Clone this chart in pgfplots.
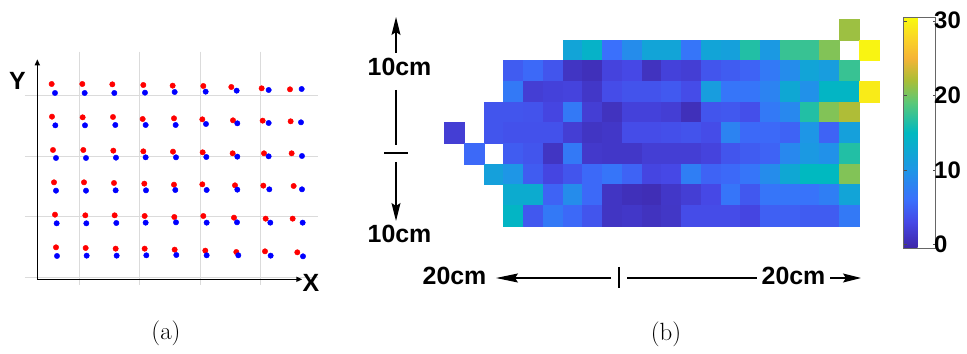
\documentclass[border=0pt]{standalone}
\usepackage{pgfplots}
\pgfplotsset{compat=1.18}
\usepackage{fontspec}
\newfontfamily\arial{Liberation Sans}
\newfontfamily\arialbf{Liberation Sans}[UprightFont={* Bold}, BoldFont={* Bold}]
\usetikzlibrary{arrows.meta}
\pgfplotsset{colormap={parulaish}{
 rgb255(0cm)=(62,38,168)
 rgb255(3.5cm)=(70,72,230)
 rgb255(6.5cm)=(58,112,252)
 rgb255(10.5cm)=(30,150,230)
 rgb255(15.5cm)=(0,185,192)
 rgb255(19.5cm)=(90,200,120)
 rgb255(22.5cm)=(170,190,55)
 rgb255(25.5cm)=(245,180,55)
 rgb255(28cm)=(250,210,40)
 rgb255(31cm)=(249,251,14)
}}
\pgfdeclareplotmark{cell}{%
  \pgfpathrectangle{\pgfpoint{-9.875bp}{-10.35bp}}{\pgfpoint{19.75bp}{20.7bp}}%
  \pgfusepathqfillstroke}
\pgfplotstableread{
x y c
20 9 21.5
6 8 12
7 8 14
8 8 6
9 8 9
10 8 12
11 8 12
12 8 6.5
13 8 12
14 8 11.5
15 8 16.5
16 8 10.5
17 8 17.5
18 8 17.5
19 8 20.5
21 8 30
3 7 4.5
4 7 5.5
5 7 4
6 7 1
7 7 0.5
8 7 2.5
9 7 3
10 7 0.8
11 7 2.3
12 7 2
13 7 4
14 7 4.5
15 7 5
16 7 7
17 7 9
18 7 12
19 7 11
20 7 17.5
3 6 7
4 6 2
5 6 2.3
6 6 2.5
7 6 1.3
8 6 3.3
9 6 3.8
10 6 3.8
11 6 4.3
12 6 3.3
13 6 11
14 6 6.5
15 6 6.5
16 6 8
17 6 12.5
18 6 9.5
19 6 14.5
20 6 14.5
21 6 29.3
2 5 4
3 5 4
4 5 3.8
5 5 2.7
6 5 7
7 5 2
8 5 0.8
9 5 2.3
10 5 2.3
11 5 2
12 5 0.5
13 5 4
14 5 4.2
15 5 3.5
16 5 7
17 5 8.5
18 5 16.5
19 5 20.5
20 5 22.2
0 4 2
2 4 4
3 4 3.7
4 4 3.7
5 4 3.7
6 4 2
7 4 1
8 4 1.3
9 4 3.3
10 4 3.3
11 4 3.5
12 4 3.8
13 4 3.3
14 4 8
15 4 5.5
16 4 5.5
17 4 5
18 4 10
19 4 5
20 4 11.5
1 3 5.5
3 3 4.5
4 3 4
5 3 1
6 3 7
7 3 1.5
8 3 1.3
9 3 1.3
10 3 2
11 3 2
12 3 2
13 3 2.5
14 3 4
15 3 4.5
16 3 5
17 3 8.5
18 3 10.5
19 3 9.5
20 3 16.5
2 2 11.5
3 2 10
4 2 4.5
5 2 2.7
6 2 4
7 2 5.5
8 2 6.5
9 2 5
10 2 2.7
11 2 3
12 2 7.5
13 2 5
14 2 5.5
15 2 6.5
16 2 9
17 2 12.5
18 2 15
19 2 15
20 2 20.5
3 1 13
4 1 13
5 1 5
6 1 9
7 1 5.5
8 1 1
9 1 0.5
10 1 0.3
11 1 1.3
12 1 2
13 1 3
14 1 6.5
15 1 4.2
16 1 6.5
17 1 6.5
18 1 6.3
19 1 7.5
20 1 12
3 0 14.5
4 0 4.2
5 0 7
6 0 5.5
7 0 4
8 0 1
9 0 1.3
10 0 0.8
11 0 1.2
12 0 3.3
13 0 3.3
14 0 3.3
15 0 2.7
16 0 4.8
17 0 4.8
18 0 4.5
19 0 4.5
20 0 7
}\heat
\begin{document}
\begin{tikzpicture}
\path[use as bounding box] (0bp,0bp) rectangle (967bp,354bp);
% ---------- panel (a)
\begin{axis}[at={(0bp,304bp)}, anchor=north west, x=0.33333bp, y=0.33333bp, y dir=reverse,
  xmin=0, xmax=990, ymin=0, ymax=750, hide axis, clip=false]
\draw[black!14, line width=0.9bp] (axis cs:237,5) -- (axis cs:237,705);
\draw[black!14, line width=0.9bp] (axis cs:418,5) -- (axis cs:418,705);
\draw[black!14, line width=0.9bp] (axis cs:600,5) -- (axis cs:600,705);
\draw[black!14, line width=0.9bp] (axis cs:781,5) -- (axis cs:781,705);
\draw[black!14, line width=0.9bp] (axis cs:75,137) -- (axis cs:955,137);
\draw[black!14, line width=0.9bp] (axis cs:75,319) -- (axis cs:955,319);
\draw[black!14, line width=0.9bp] (axis cs:75,500) -- (axis cs:955,500);
\draw[black!14, line width=0.9bp] (axis cs:75,683) -- (axis cs:955,683);
\draw[line width=1.4bp, -{Triangle[length=6bp,width=5bp]}] (axis cs:112,688) -- (axis cs:112,28);
\draw[line width=1.4bp, -{Triangle[length=6bp,width=5bp]}] (axis cs:112,688) -- (axis cs:907,688);
\node[font=\arialbf\fontsize{25}{25}\selectfont] at (axis cs:52,93) {Y};
\node[font=\arialbf\fontsize{25}{25}\selectfont] at (axis cs:933,699) {X};
\addplot[only marks, mark=*, mark size=2.7bp, color=red] coordinates {
(155,102) (247,102) (337,103) (430,105) (518,107) (610,108) (694,111) (785,115) (870,118)
(156,200) (248,202) (339,201) (428,207) (522,205) (607,208) (699,211) (788,212) (872,214)
(159,300) (250,300) (340,302) (430,304) (519,305) (608,307) (698,310) (792,310) (875,310)
(162,397) (252,397) (342,399) (433,401) (522,404) (607,403) (705,406) (790,407) (881,408)
(165,494) (256,496) (344,496) (434,498) (523,501) (610,498) (702,503) (797,506) (878,506)
(168,592) (257,594) (347,596) (434,596) (524,599) (616,602) (709,606) (795,604) (892,607)};
\addplot[only marks, mark=*, mark size=2.7bp, color=blue] coordinates {
(165,129) (254,129) (343,129) (435,128) (524,126) (617,125) (710,122) (806,120) (905,117)
(166,226) (255,226) (346,225) (437,225) (527,225) (618,222) (712,220) (806,219) (903,217)
(168,324) (258,324) (348,323) (437,322) (528,322) (619,321) (712,320) (806,319) (906,318)
(168,422) (258,422) (347,421) (438,421) (526,420) (620,420) (712,419) (808,418) (906,418)
(170,520) (259,520) (349,519) (437,518) (528,517) (620,518) (711,517) (811,518) (908,518)
(171,618) (260,617) (350,617) (439,616) (529,615) (620,616) (715,616) (812,617) (909,619)};
\end{axis}
% ---------- panel (b)
\begin{axis}[at={(444.3bp,335bp)}, anchor=north west, x=19.75bp, y=20.7bp,
  xmin=-0.5, xmax=21.5, ymin=-0.5, ymax=9.5, axis line style={draw=none}, ticks=none, clip=false,
  colormap name=parulaish, point meta min=-0.5, point meta max=30.5,
  colorbar, colorbar style={at={(parent axis.north east)}, anchor=north west, xshift=16.2bp, yshift=2bp,
    scale only axis, width=32bp, height=231bp, xtick=\empty, ytick={0,10,20,30},
    yticklabels={},
    axis line style={draw=black!60, line width=0.6bp}, major tick length=3bp,
    tick style={black!70}, tick align=inside}]
\addplot[scatter, only marks, mark=cell, scatter src=explicit,
  scatter/use mapped color={draw=mapped color, fill=mapped color}, mark options={line width=0.3bp}]
  table[x=x, y=y, meta=c] {\heat};
\end{axis}
% colorbar labels
\begin{scope}[font=\arialbf\fontsize{24}{24}\selectfont]
\node[anchor=west, inner sep=0pt] at (934bp,109.7bp) {0};
\node[anchor=west, inner sep=0pt] at (934bp,184.2bp) {10};
\node[anchor=west, inner sep=0pt] at (934bp,258.7bp) {20};
\node[anchor=west, inner sep=0pt] at (934bp,333.3bp) {30};
\end{scope}
% annotations
\begin{scope}[line width=1.3bp, font=\arialbf\fontsize{25}{25}\selectfont]
\draw[-{Stealth[length=18bp,width=9bp,inset=3bp]}] (396bp,301bp) -- (396bp,337bp);
\node at (399.5bp,287bp) {10cm};
\draw (396bp,264bp) -- (396bp,209bp);
\draw (384bp,201bp) -- (408bp,201bp);
\draw[-{Stealth[length=18bp,width=9bp,inset=3bp]}] (396bp,192bp) -- (396bp,133bp);
\node at (399.5bp,120bp) {10cm};
\node at (454.5bp,78bp) {20cm};
\draw[-{Stealth[length=22bp,width=9bp,inset=3bp]}] (611bp,76bp) -- (496bp,76bp);
\draw (619bp,87bp) -- (619bp,66bp);
\draw (627bp,76bp) -- (757bp,76bp);
\node at (793.5bp,78bp) {20cm};
\draw[-{Stealth[length=18bp,width=9bp,inset=3bp]}] (830bp,76bp) -- (861bp,76bp);
\end{scope}
\node[font=\fontsize{25}{25}\selectfont] at (166bp,21bp) {(a)};
\node[font=\fontsize{25}{25}\selectfont] at (666bp,20bp) {(b)};
\end{tikzpicture}
\end{document}
